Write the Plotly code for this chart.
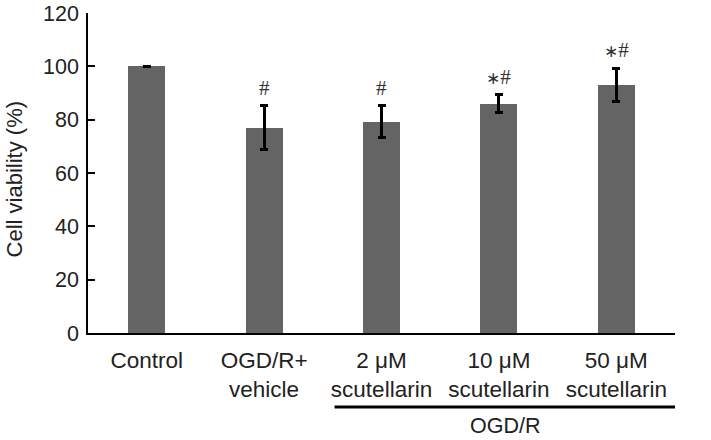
import plotly.graph_objects as go

categories = ["Control", "OGD/R+<br>vehicle", "2 μM<br>scutellarin", "10 μM<br>scutellarin", "50 μM<br>scutellarin"]
viability = [100, 77.0, 79.3, 86.0, 93.0]
errors = [0, 8.2, 5.9, 3.3, 6.3]
marks = ["", "#", "#", "*#", "*#"]
y_ticks = [0, 20, 40, 60, 80, 100, 120]
group_label = "OGD/R"
y_title = "Cell viability (%)"

xs = list(range(len(categories)))

fig = go.Figure()
fig.add_trace(go.Bar(
    x=xs, y=viability, width=0.315,
    marker=dict(color="#646464", line=dict(width=0)),
    error_y=dict(type="data", array=[e if e else None for e in errors], visible=True,
                 color="black", thickness=3, width=4),
    showlegend=False,
))

def fmt(m):
    out = ""
    for ch in m:
        if ch == "*":
            out += '<span style="font-family:DejaVu Sans;font-size:17px">∗</span>'
        else:
            out += '<span style="font-family:Liberation Serif;font-size:21px">#</span>'
    return out

for i, m in enumerate(marks):
    if m:
        fig.add_annotation(x=xs[i], y=viability[i] + errors[i], text=fmt(m),
                           showarrow=False, yanchor="bottom", yshift=4,
                           font=dict(color="#333"))

# group line and label
fig.add_shape(type="line", xref="x", yref="paper", x0=1.6, x1=5.1, y0=-0.231, y1=-0.231,
              line=dict(color="black", width=3))
fig.add_annotation(x=3.05, xref="x", y=-0.292, yref="paper", text=group_label, showarrow=False,
                   yanchor="middle", font=dict(size=21.5, color="#222", family="Liberation Sans"))

# y axis title
fig.add_annotation(x=-0.126, xref="paper", y=0.48, yref="paper", text=y_title, textangle=-90,
                   showarrow=False, xanchor="center", yanchor="middle",
                   font=dict(size=22, color="#222", family="Liberation Sans"))

fig.update_layout(
    width=711, height=440,
    margin=dict(l=88, r=36, t=13, b=107),
    plot_bgcolor="white", paper_bgcolor="white",
    font=dict(family="Liberation Sans", color="#222"),
    bargap=0,
)
fig.update_xaxes(
    range=[-0.5, 4.5], tickvals=xs, ticktext=categories, showline=True, linecolor="black",
    linewidth=1.5, ticks="", tickfont=dict(size=22.5), showgrid=False, zeroline=False,
    automargin=False, ticklabeloverflow="allow", ticklabelstandoff=6,
)
fig.update_yaxes(
    range=[0, 120], tickvals=y_ticks, showline=True, linecolor="black", linewidth=1.5,
    ticks="inside", ticklen=7, tickwidth=1.5, tickcolor="black", tickfont=dict(size=21.5),
    showgrid=False, zeroline=False, automargin=False, ticklabeloverflow="allow",
    ticklabelstandoff=3,
)
fig.write_html("out.html", config={"displayModeBar": False},
               post_script="document.body.style.margin='0';")
